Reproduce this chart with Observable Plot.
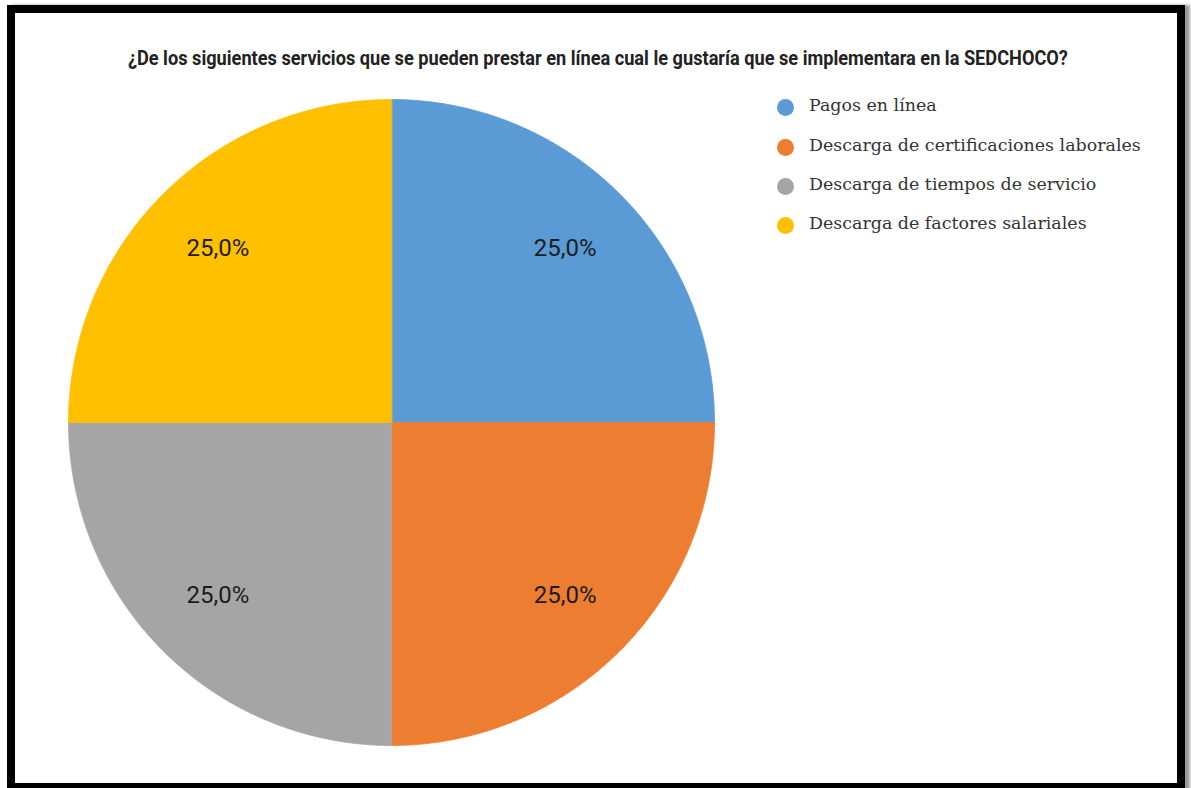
<!DOCTYPE html>
<html><head><meta charset="utf-8">
<script src="https://cdn.jsdelivr.net/npm/d3@7"></script>
<script src="https://cdn.jsdelivr.net/npm/@observablehq/plot@0.6"></script>
<style>
body{margin:0;background:#fff;width:1191px;height:788px;overflow:hidden;}
#frame{position:absolute;left:7px;top:5px;width:1162px;height:770px;border:8px solid #000;box-shadow:5px 0 3px #999;background:#fff;}
#title{position:absolute;top:33px;left:2px;width:1162px;text-align:center;font:bold 21px Roboto;color:#222;white-space:nowrap;}
#title span{display:inline-block;transform-origin:center;}
#chart{position:absolute;left:0;top:67px;}
#legend{position:absolute;left:0;top:0;font-family:"DejaVu Serif";color:#333;}
.item{position:absolute;white-space:nowrap;line-height:1;}
.sw{position:absolute;width:17px;height:17px;border-radius:50%;}
</style>
</head><body>
<div id="frame">
  <div id="title"><span></span></div>
  <div id="chart"></div>
  <div id="legend"></div>
</div>
<script>
const title = "¿De los siguientes servicios que se pueden prestar en línea cual le gustaría que se implementara en la SEDCHOCO?";
const categories = ["Pagos en línea","Descarga de certificaciones laborales","Descarga de tiempos de servicio","Descarga de factores salariales"];
const values = [25, 25, 25, 25];
const labels = ["25,0%","25,0%","25,0%","25,0%"];
const colors = ["#5b9bd5","#ed7d31","#a5a5a5","#ffc000"];

const rows = categories.map((c,i)=>({name:c, value:values[i], label:labels[i]}));
const arcs = d3.pie().sort(null).value(d=>d.value)(rows);
const poly = [];
for (const a of arcs) {
  const n = Math.max(2, Math.ceil((a.endAngle - a.startAngle) / 0.005));
  poly.push({name:a.data.name, x:0, y:0});
  for (let k=0;k<=n;k++){
    const t = a.startAngle + (a.endAngle - a.startAngle)*k/n;
    poly.push({name:a.data.name, x:Math.sin(t), y:Math.cos(t)});
  }
}
const lab = arcs.map(a=>{const m=(a.startAngle+a.endAngle)/2; return {name:a.data.name, label:a.data.label, x:0.76*Math.sin(m), y:0.76*Math.cos(m)};});

const W=720, H=700, R=323, cx=376, cy=342;
const chart = Plot.plot({
  width:W, height:H,
  marginLeft:cx-R, marginRight:W-cx-R, marginTop:cy-R, marginBottom:H-cy-R,
  x:{domain:[-1,1], axis:null},
  y:{domain:[-1,1], axis:null},
  color:{domain:categories, range:colors},
  marks:[
    Plot.line(poly, {x:"x", y:"y", z:"name", fill:"name", stroke:"name", strokeWidth:0.8, curve:"linear-closed"}),
    Plot.text(lab, {x:"x", y:"y", text:"label", fontSize:24, fill:"#1c1c1c", fontFamily:"Roboto", dy:-1})
  ]
});
document.getElementById("chart").appendChild(chart);

// title
const ts = document.querySelector("#title span");
ts.textContent = title;
const tw = ts.getBoundingClientRect().width;
ts.style.transform = `scaleX(${940/tw})`;

// legend
const leg = document.getElementById("legend");
const legY = [94, 134, 173, 212];
categories.forEach((c,i)=>{
  const sw = document.createElement("div");
  sw.className="sw"; sw.style.background=colors[i];
  sw.style.left=(770-8.5)+"px"; sw.style.top=(legY[i]-8.5)+"px";
  leg.appendChild(sw);
  const it = document.createElement("div");
  it.className="item"; it.textContent=c;
  it.style.left="794px"; it.style.fontSize="14px";
  leg.appendChild(it);
});
const items = leg.querySelectorAll(".item");
const w1 = items[1].getBoundingClientRect().width;
const fs = 14*332/w1;
items.forEach((it,i)=>{
  it.style.fontSize=fs+"px";
  const h = it.getBoundingClientRect().height;
  it.style.top=(legY[i]-h/2-1)+"px";
});
</script>
</body></html>
